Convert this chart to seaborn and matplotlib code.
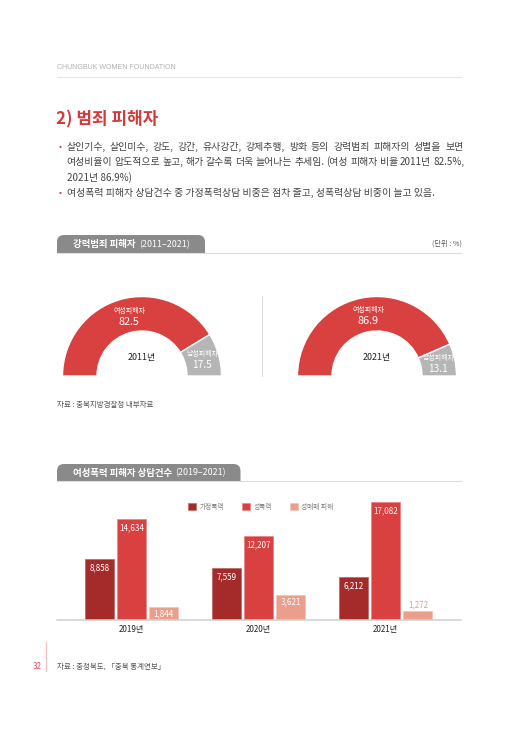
import numpy as np
import pandas as pd
import matplotlib
matplotlib.use("Agg")
import matplotlib.pyplot as plt
from matplotlib.patches import FancyBboxPatch, Rectangle, Patch
import seaborn as sns

# ---------------- data ----------------
donut_years = ["2011년", "2021년"]
female_share = [82.5, 86.9]
male_share = [17.5, 13.1]
female_label = "여성피해자"
male_label = "남성피해자"

bar_years = ["2019년", "2020년", "2021년"]
bar_types = ["가정폭력", "성폭력", "성매매 피해"]
domestic = [8858, 7559, 6212]
sexual = [14634, 12207, 17082]
trafficking = [1844, 3621, 1272]

bullets = [
    ["살인기수, 살인미수, 강도, 강간, 유사강간, 강제추행, 방화 등의 강력범죄 피해자의 성별을 보면",
     "여성비율이 압도적으로 높고, 해가 갈수록 더욱 늘어나는 추세임. (여성 피해자 비율 2011년 82.5%,",
     "2021년 86.9%)"],
    ["여성폭력 피해자 상담건수 중 가정폭력상담 비중은 점차 줄고, 성폭력상담 비중이 늘고 있음."],
]

# ---------------- style ----------------
sns.set_theme(style="white")
plt.rcParams["font.family"] = ["Noto Sans CJK KR", "DejaVu Sans"]

RED = "#d94140"
DARK = "#a52b2b"
SALMON = "#eb9e8c"
GRAY = "#b5b5b5"
TXT = "#444444"

W, H = 516, 729
fig = plt.figure(figsize=(W / 100, H / 100), dpi=100)
fig.patch.set_facecolor("white")
renderer = fig.canvas.get_renderer()


def fbox(left, top, width, height):
    return [left / W, (H - top - height) / H, width / W, height / H]


# page axes in pixel units
page = fig.add_axes([0, 0, 1, 1], zorder=0)
page.set_xlim(0, W)
page.set_ylim(H, 0)
page.axis("off")

# header
page.text(57, 67, "CHUNGBUK WOMEN FOUNDATION", fontsize=5.0, color="#b0b0b0",
          va="center", ha="left", family=["Liberation Sans", "DejaVu Sans"])
page.plot([57, 461], [77, 77], color="#e6e6e6", lw=0.8)

# title
page.text(56, 119, "2) 범죄 피해자", fontsize=12.2, fontweight="bold", color="#d13b3b",
          va="center", ha="left")


def justified(x0, x1, y, text, **kw):
    words = text.split(" ")
    arts = [page.text(0, y, w_, va="center", ha="left", **kw) for w_ in words]
    widths = [a.get_window_extent(renderer).width for a in arts]
    g = (x1 - x0 - sum(widths)) / max(len(words) - 1, 1)
    x = x0
    for a, wd in zip(arts, widths):
        a.set_x(x)
        x += wd + g


BODY = 7.1
line_y = [[146.5, 162, 177.5], [192.5]]
justify_right = [[463.3, 464.3, None], [None]]
for lines, ys, rights in zip(bullets, line_y, justify_right):
    page.text(60.5, ys[0], "•", color="#d13b3b", fontsize=6.5, va="center", ha="center")
    for t, y, r in zip(lines, ys, rights):
        if r is None:
            page.text(66.7, y, t, fontsize=BODY, color=TXT, va="center", ha="left")
        else:
            justified(66.7, r, y, t, fontsize=BODY, color=TXT)


def section_tab(x0, x1, y0, y1, bold, light):
    clip = Rectangle((x0 - 2, y0 - 2), x1 - x0 + 4, y1 - y0 + 2, transform=page.transData)
    box = FancyBboxPatch((x0, y0), x1 - x0, (y1 - y0) + 10,
                         boxstyle="round,pad=0,rounding_size=7",
                         fc="#8a8a8a", ec="none", transform=page.transData)
    page.add_patch(box)
    box.set_clip_path(clip)
    page.plot([57, 461], [y1, y1], color="#dcdcdc", lw=0.8)
    ym = (y0 + y1) / 2 + 0.5
    tb = page.text(x0 + 16, ym, bold, color="white", fontsize=6.8, fontweight="bold",
                   va="center", ha="left")
    wb = tb.get_window_extent(renderer).width
    page.text(x0 + 16 + wb + 3.3, ym, light, color="white", fontsize=6.4,
              va="center", ha="left")


section_tab(57, 205, 235, 252.5, "강력범죄 피해자", "(2011–2021)")
page.text(461.5, 244, "(단위 : %)", fontsize=5.2, color="#555555", va="center", ha="right")
section_tab(57, 240.5, 464, 481, "여성폭력 피해자 상담건수", "(2019–2021)")

# divider between donuts
page.plot([261.7, 261.7], [296, 376], color="#dddddd", lw=0.8)

# sources
page.text(57, 404.5, "자료 : 충북지방경찰청 내부자료", fontsize=5.4, color="#555555",
          va="center", ha="left")
page.text(57, 666.5, "자료 : 충청북도, 「충북 통계연보」", fontsize=5.4, color="#555555",
          va="center", ha="left")
page.text(42, 666.5, "32", fontsize=5.8, color="#e0506e", va="center", ha="right")
page.plot([45.5, 45.5], [642, 671], color="#f3c2c8", lw=1.0)

# ---------------- donuts ----------------
R_px = 79.5
box_px = 80.0
width_frac = (79.5 - 45.0) / box_px
centers = [(142.0, 376.0), (377.0, 376.0)]
for (cx, cy), yr, f, m in zip(centers, donut_years, female_share, male_share):
    ax = fig.add_axes(fbox(cx - box_px, cy - box_px, 2 * box_px, 2 * box_px), zorder=2)
    vals = [f, m, f + m]
    wedges, _ = ax.pie(vals, colors=[RED, GRAY, "white"], startangle=180,
                       counterclock=False, radius=R_px / box_px,
                       wedgeprops=dict(width=width_frac, edgecolor="white", linewidth=1.0))
    wedges[2].set_visible(False)
    ax.set_xlim(-1, 1)
    ax.set_ylim(-1, 1)
    ax.set_aspect("equal")
    ax.axis("off")
    rmid = (R_px / box_px) - width_frac / 2
    px = 1.0 / box_px
    for w_, name, v, nfs, vfs, dx in [(wedges[0], female_label, f, 5.0, 7.8, 4.0),
                                      (wedges[1], male_label, m, 5.0, 7.3, 0.0)]:
        ang = np.deg2rad((w_.theta1 + w_.theta2) / 2)
        x, y = rmid * np.cos(ang) + dx * px, rmid * np.sin(ang)
        ax.text(x, y + 5 * px, name, color="white", fontsize=nfs, ha="center", va="center")
        ax.text(x, y - 5.5 * px, f"{v:.1f}", color="white", fontsize=vfs, ha="center",
                va="center")
    ax.text(0, 18.5 * px, yr, color="#222222", fontsize=6.4, ha="center", va="center")

# ---------------- bars ----------------
df = pd.DataFrame({
    "year": np.repeat(bar_years, len(bar_types)),
    "type": bar_types * len(bar_years),
    "value": np.ravel(np.column_stack([domestic, sexual, trafficking])),
})
pal = dict(zip(bar_types, [DARK, RED, SALMON]))
edge = dict(zip(bar_types, ["#c06a6a", "#e98786", "#f4c3b8"]))

px_per_unit = 0.00687
axh = 130
bx = fig.add_axes(fbox(57, 619.5 - axh, 404, axh), zorder=2)
sns.barplot(data=df, x="year", y="value", hue="type", hue_order=bar_types,
            order=bar_years, palette=pal, width=0.76, ax=bx, legend=False,
            linewidth=0, saturation=1)
bx.set_ylim(0, axh / px_per_unit)
bx.set_xlim(-0.587, 2.593)
unit_per_px_x = 3.18 / 404
gap = 3.2 * unit_per_px_x
pt = 72.0 / 100.0
for cont, t in zip(bx.containers, bar_types):
    for bar in cont:
        bar.set_x(bar.get_x() + gap / 2)
        bar.set_width(bar.get_width() - gap)
        bar.set_edgecolor(edge[t])
        bar.set_linewidth(0.6)
        h = bar.get_height()
        hpx = h * px_per_unit
        xc = bar.get_x() + bar.get_width() / 2
        if hpx >= 11:
            off = 9.0 if hpx > 40 else 7.4
            bx.annotate(f"{h:,.0f}", (xc, h), xytext=(0, -off * pt), textcoords="offset points",
                        ha="center", va="center", color="white", fontsize=5.8)
        else:
            bx.annotate(f"{h:,.0f}", (xc, h), xytext=(0, 6.2 * pt), textcoords="offset points",
                        ha="center", va="center", color=SALMON, fontsize=5.8)

bx.set_xlabel("")
bx.set_ylabel("")
bx.set_yticks([])
bx.tick_params(axis="x", length=0, pad=4.3, labelsize=5.8, labelcolor="#222222")
for s in ["top", "left", "right"]:
    bx.spines[s].set_visible(False)
bx.spines["bottom"].set_color("#d0d0d0")
bx.spines["bottom"].set_linewidth(1.1)
bx.patch.set_alpha(0)

handles = [Patch(facecolor=pal[t], edgecolor=edge[t], linewidth=0.5) for t in bar_types]
bx.legend(handles, bar_types, loc="center left", bbox_to_anchor=(188 / W, 1 - 506.5 / H),
          bbox_transform=fig.transFigure, frameon=False, ncol=3, fontsize=4.8,
          handlelength=1.2, handleheight=1.2, handletextpad=0.5, columnspacing=2.7,
          borderpad=0, borderaxespad=0, labelcolor="#777777")

fig.savefig("out.png", dpi=100, facecolor="white")
